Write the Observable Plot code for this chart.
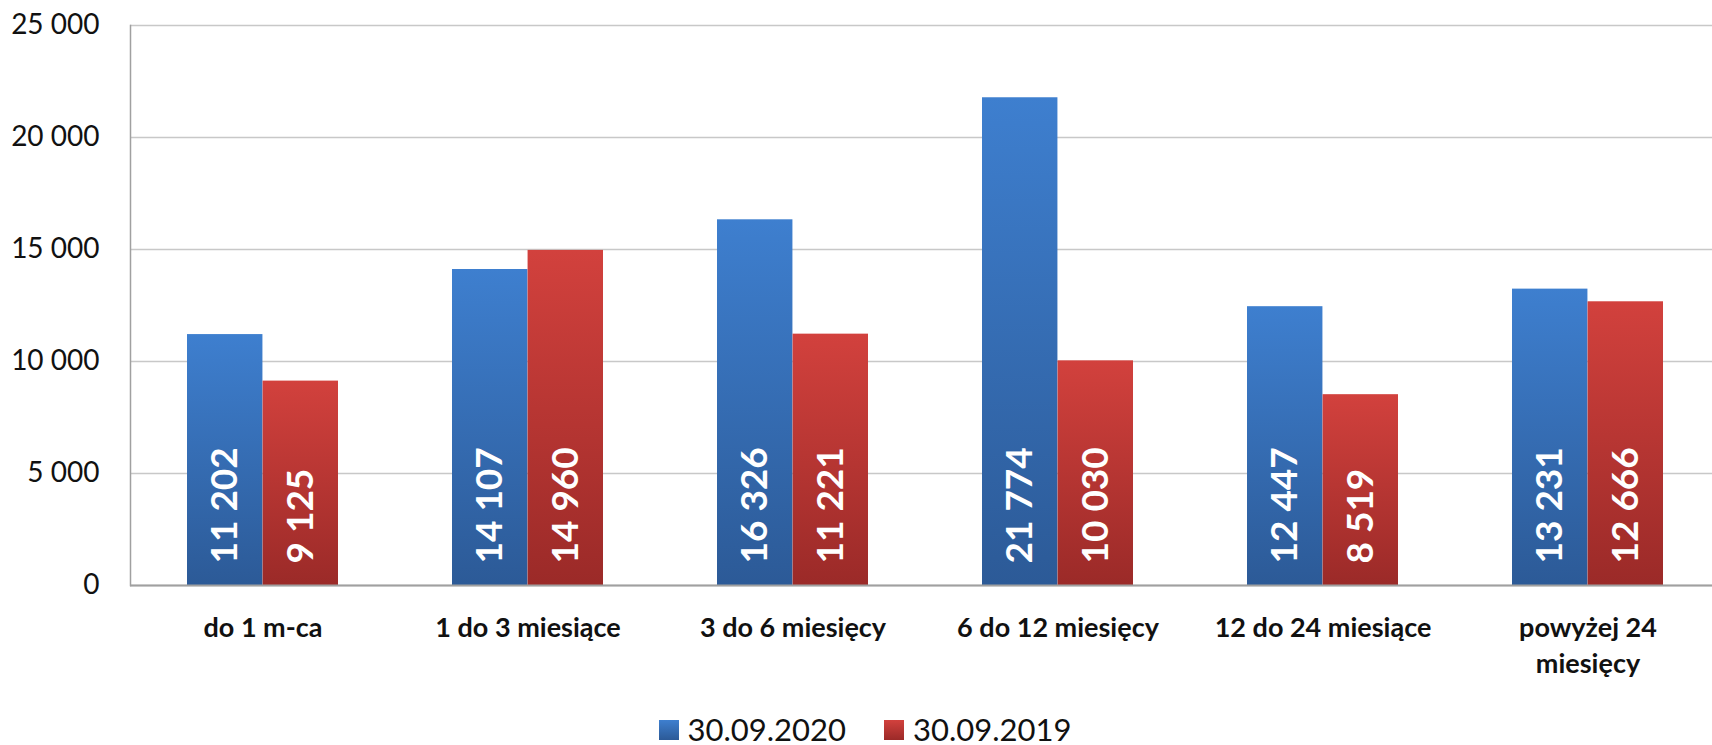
<!DOCTYPE html>
<html>
<head>
<meta charset="utf-8">
<script src="https://cdn.jsdelivr.net/npm/d3@7"></script>
<script src="https://cdn.jsdelivr.net/npm/@observablehq/plot@0.6"></script>
<style>
  html, body { margin: 0; padding: 0; background: #fff; overflow: hidden; }
  #chart { width: 1712px; height: 745px; }
  .legend { display: flex; justify-content: center; align-items: center; height: 31px;
            font-family: Lato, "Open Sans", sans-serif; font-size: 31px; line-height: 31px; color: #111; padding-left: 18px; }
  .legend .item { display: flex; align-items: center; margin: 0 19px; }
  .legend .sw { width: 20px; height: 20px; margin-right: 9px; box-sizing: border-box; }
</style>
</head>
<body>
<div id="chart"></div>
<script>
const categories = ["do 1 m-ca", "1 do 3 miesiące", "3 do 6 miesięcy", "6 do 12 miesięcy", "12 do 24 miesiące", "powyżej 24 miesięcy"];
const tickLabels = ["do 1 m-ca", "1 do 3 miesiące", "3 do 6 miesięcy", "6 do 12 miesięcy", "12 do 24 miesiące", "powyżej 24\nmiesięcy"];
const series = ["30.09.2020", "30.09.2019"];
const values2020 = [11202, 14107, 16326, 21774, 12447, 13231];
const values2019 = [9125, 14960, 11221, 10030, 8519, 12666];
const yTicks = [0, 5000, 10000, 15000, 20000, 25000];

const fmt = d3.formatLocale({decimal: ",", thousands: " ", grouping: [3], currency: ["", " zł"]}).format(",d");

const d2020 = categories.map((c, i) => ({category: c, value: values2020[i]}));
const d2019 = categories.map((c, i) => ({category: c, value: values2019[i]}));

const W = 1712, H = 714;
const bandW = (1721 - 130) / 6 * 0.57;
const half = bandW / 2;

const plot = Plot.plot({
  width: W,
  height: H,
  marginLeft: 130,
  marginRight: 0,
  marginTop: 25,
  marginBottom: H - 585,
  style: {fontFamily: "Lato, 'Open Sans', sans-serif", background: "#fff", color: "#111"},
  x: {domain: categories, range: [130, 1721], paddingInner: 0.43, paddingOuter: 0.215},
  y: {domain: [0, 25000]},
  marks: [
    Plot.gridY(yTicks, {stroke: "#c8c8c8", strokeOpacity: 1, strokeWidth: 1.5}),
    Plot.barY(d2020, {x: "category", y: "value", fill: "url(#gBlue)", insetRight: half}),
    Plot.barY(d2019, {x: "category", y: "value", fill: "url(#gRed)", insetLeft: half}),
    Plot.text(d2020, {x: "category", y: 0, text: d => fmt(d.value), rotate: -90, textAnchor: "start", lineAnchor: "middle",
      dx: -half / 2, dy: -22, fill: "white", fontSize: 37, fontWeight: "bold"}),
    Plot.text(d2019, {x: "category", y: 0, text: d => fmt(d.value), rotate: -90, textAnchor: "start", lineAnchor: "middle",
      dx: half / 2, dy: -22, fill: "white", fontSize: 37, fontWeight: "bold"}),
    Plot.ruleY([0], {stroke: "#a0a0a0", strokeWidth: 2}),
    Plot.frame({anchor: "left", stroke: "#a0a0a0", strokeWidth: 1.5}),
    Plot.axisY(yTicks, {tickSize: 0, tickPadding: 31, fontSize: 28, tickFormat: fmt, label: null, fill: "#111"}),
    Plot.axisX({tickSize: 0, tickPadding: 27, fontSize: 27, fontWeight: "bold", lineHeight: 1.3, label: null,
      tickFormat: (d) => tickLabels[categories.indexOf(d)], fill: "#111"})
  ]
});

const svg = d3.select(plot);
const defs = svg.insert("defs", ":first-child");
const gb = defs.append("linearGradient").attr("id", "gBlue").attr("x1", 0).attr("y1", 0).attr("x2", 0).attr("y2", 1);
gb.append("stop").attr("offset", "0%").attr("stop-color", "#3e7fcf");
gb.append("stop").attr("offset", "100%").attr("stop-color", "#2c5a97");
const gr = defs.append("linearGradient").attr("id", "gRed").attr("x1", 0).attr("y1", 0).attr("x2", 0).attr("y2", 1);
gr.append("stop").attr("offset", "0%").attr("stop-color", "#d2413d");
gr.append("stop").attr("offset", "100%").attr("stop-color", "#9b2a28");

document.getElementById("chart").appendChild(plot);

const legend = d3.select("#chart").append("div").attr("class", "legend");
const swatches = ["linear-gradient(#3e7fcf, #2c5a97)", "linear-gradient(#d2413d, #9b2a28)"];
series.forEach((s, i) => {
  const it = legend.append("div").attr("class", "item");
  it.append("div").attr("class", "sw").style("background", swatches[i]);
  it.append("span").text(s);
});
</script>
</body>
</html>
